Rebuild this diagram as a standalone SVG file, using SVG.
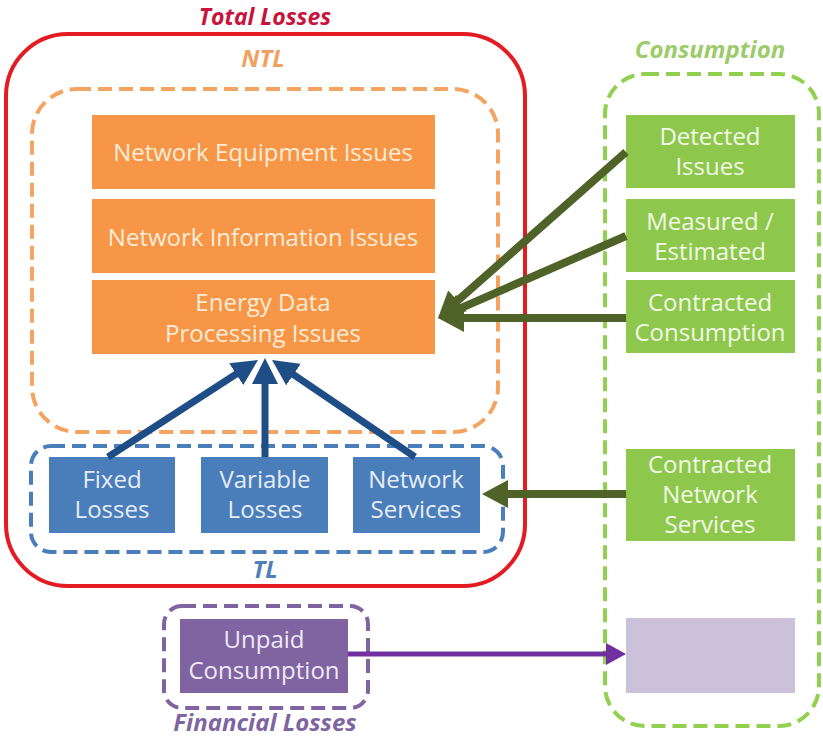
<svg xmlns="http://www.w3.org/2000/svg" width="823" height="738" viewBox="0 0 823 738">
<style>
  .lbl { font-family: "Open Sans", "Liberation Sans", sans-serif; font-size: 24px; text-anchor: middle; }
  .title { font-family: "Open Sans", "Liberation Sans", sans-serif; font-size: 24px; font-weight: bold; font-style: italic; text-anchor: middle; }
  .orange { fill: #f79646; }
  .green { fill: #8dc84c; }
  .blue { fill: #4a7ebb; }
  .purple { fill: #8064a2; }
  .lav { fill: #ccc1da; }
  .tOr { fill: #fdecd9; }
  .tGr { fill: #f2f8e8; }
  .tBl { fill: #e6edf7; }
  .tPu { fill: #efe9f6; }
  .dash { fill: none; stroke-width: 4; stroke-dasharray: 14 7; }
  .conG { stroke: #4f6228; stroke-width: 8; fill: none; }
  .conB { stroke: #1f4e87; stroke-width: 7; fill: none; }
  .conP { stroke: #7030a0; stroke-width: 5; fill: none; }
</style>
<defs>
  <marker id="ahG" markerUnits="userSpaceOnUse" markerWidth="28" markerHeight="28" refX="8" refY="14" orient="auto">
    <path d="M0,0 L26,14 L0,28 z" fill="#4f6228"/>
  </marker>
  <marker id="ahB" markerUnits="userSpaceOnUse" markerWidth="28" markerHeight="26" refX="8" refY="13" orient="auto">
    <path d="M0,0 L26,13 L0,26 z" fill="#1f4e87"/>
  </marker>
  <marker id="ahP" markerUnits="userSpaceOnUse" markerWidth="22" markerHeight="22" refX="4" refY="11" orient="auto">
    <path d="M0,0 L20,11 L0,22 z" fill="#7030a0"/>
  </marker>
</defs>
<rect width="823" height="738" fill="#ffffff"/>

<!-- containers -->
<g id="total-losses">
  <rect x="6" y="34" width="519" height="552" rx="62" fill="none" stroke="#e31b23" stroke-width="4"/>
  <text class="title" x="265" y="25" fill="#c8143c" style="font-size:23px">Total Losses</text>
</g>
<g id="ntl">
  <rect x="32" y="89" width="466" height="343" rx="45" class="dash" stroke="#f4a460"/>
  <text class="title" x="263" y="67" fill="#f2a060">NTL</text>
</g>
<g id="tl">
  <rect x="31" y="446" width="472" height="106" rx="20" class="dash" stroke="#4a7ebb"/>
  <text class="title" x="265" y="578" fill="#4f7fb8">TL</text>
</g>
<g id="consumption">
  <rect x="605" y="74" width="214" height="652" rx="40" class="dash" stroke="#92d050"/>
  <text class="title" x="710" y="58" fill="#9ccb6a">Consumption</text>
</g>
<g id="financial-losses">
  <rect x="164" y="606" width="204" height="102" rx="18" class="dash" stroke="#8064a2"/>
  <text class="title" x="265" y="731" fill="#7e65a0">Financial Losses</text>
</g>

<!-- NTL nodes -->
<g id="net-equipment">
  <rect x="92" y="115" width="343" height="74" class="orange"/>
  <text class="lbl tOr" x="263" y="161">Network Equipment Issues</text>
</g>
<g id="net-information">
  <rect x="92" y="199" width="343" height="74" class="orange"/>
  <text class="lbl tOr" x="263" y="246">Network Information Issues</text>
</g>
<g id="energy-data">
  <rect x="92" y="280" width="343" height="74" class="orange"/>
  <text class="lbl tOr" x="263" y="311">Energy Data</text>
  <text class="lbl tOr" x="263" y="342">Processing Issues</text>
</g>

<!-- TL nodes -->
<g id="fixed-losses">
  <rect x="49" y="457" width="126" height="76" class="blue"/>
  <text class="lbl tBl" x="112" y="488">Fixed</text>
  <text class="lbl tBl" x="112" y="518">Losses</text>
</g>
<g id="variable-losses">
  <rect x="201" y="457" width="127" height="76" class="blue"/>
  <text class="lbl tBl" x="265" y="488">Variable</text>
  <text class="lbl tBl" x="265" y="518">Losses</text>
</g>
<g id="network-services">
  <rect x="353" y="457" width="127" height="76" class="blue"/>
  <text class="lbl tBl" x="416" y="488">Network</text>
  <text class="lbl tBl" x="416" y="518">Services</text>
</g>

<!-- Consumption nodes -->
<g id="detected-issues">
  <rect x="626" y="115" width="169" height="73" class="green"/>
  <text class="lbl tGr" x="710" y="145">Detected</text>
  <text class="lbl tGr" x="710" y="175">Issues</text>
</g>
<g id="measured-estimated">
  <rect x="626" y="199" width="169" height="73" class="green"/>
  <text class="lbl tGr" x="710" y="230">Measured /</text>
  <text class="lbl tGr" x="710" y="260">Estimated</text>
</g>
<g id="contracted-consumption">
  <rect x="626" y="280" width="169" height="73" class="green"/>
  <text class="lbl tGr" x="710" y="311">Contracted</text>
  <text class="lbl tGr" x="710" y="341">Consumption</text>
</g>
<g id="contracted-network-services">
  <rect x="626" y="449" width="169" height="92" class="green"/>
  <text class="lbl tGr" x="710" y="473">Contracted</text>
  <text class="lbl tGr" x="710" y="503">Network</text>
  <text class="lbl tGr" x="710" y="533">Services</text>
</g>
<g id="unpaid-target">
  <rect x="626" y="618" width="169" height="75" class="lav"/>
</g>

<!-- Financial node -->
<g id="unpaid-consumption">
  <rect x="180" y="619" width="168" height="74" class="purple"/>
  <text class="lbl tPu" x="264" y="648">Unpaid</text>
  <text class="lbl tPu" x="264" y="679">Consumption</text>
</g>

<!-- connectors -->
<g id="connectors">
  <line class="conG" x1="626" y1="152" x2="451.5" y2="306.1" marker-end="url(#ahG)"/>
  <line class="conG" x1="626" y1="236" x2="454.5" y2="310.8" marker-end="url(#ahG)"/>
  <line class="conG" x1="626" y1="318" x2="456" y2="318" marker-end="url(#ahG)"/>
  <line class="conG" x1="626" y1="494" x2="500" y2="494" marker-end="url(#ahG)"/>
  <line class="conB" x1="108" y1="457" x2="242.9" y2="369.8" marker-end="url(#ahB)"/>
  <line class="conB" x1="265" y1="457" x2="265" y2="376" marker-end="url(#ahB)"/>
  <line class="conB" x1="415" y1="457" x2="286.9" y2="370.1" marker-end="url(#ahB)"/>
  <line class="conP" x1="348" y1="654" x2="610" y2="654" marker-end="url(#ahP)"/>
</g>
</svg>
